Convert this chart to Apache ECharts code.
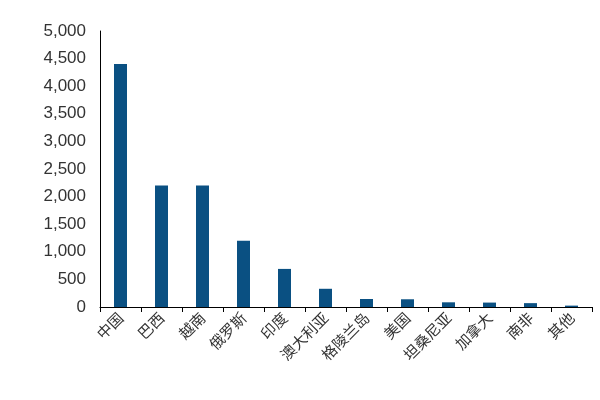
<!DOCTYPE html>
<html>
<head>
<meta charset="UTF-8">
<script src="https://cdn.jsdelivr.net/npm/echarts@6/dist/echarts.min.js"></script>
</head>
<body style="margin:0">
<div id="main" style="width:600px;height:400px;"></div>
<script>
    var categories = ['中国', '巴西', '越南', '俄罗斯', '印度', '澳大利亚', '格陵兰岛', '美国', '坦桑尼亚', '加拿大', '南非', '其他'];
    var values = [4400, 2200, 2200, 1200, 690, 330, 145, 140, 85, 80, 70, 25];

    var myChart = echarts.init(document.getElementById('main'));
    var option = {
        animation: false,
        grid: {left: 100, right: 8, top: 31, bottom: 93},
        xAxis: {
            type: 'category',
            data: categories,
            axisLine: {lineStyle: {color: '#000'}},
            axisTick: {show: true, lineStyle: {color: '#000'}},
            axisLabel: {rotate: 45, color: '#333', fontSize: 15, fontFamily: 'Noto Sans CJK SC', interval: 0, margin: 8}
        },
        yAxis: {
            type: 'value',
            min: 0, max: 5000, interval: 500,
            axisLine: {show: true, lineStyle: {color: '#000'}},
            axisTick: {show: false},
            splitLine: {show: false},
            axisLabel: {color: '#333', fontSize: 17, fontFamily: 'Liberation Sans', margin: 14,
                formatter: function (v) { return v.toLocaleString('en-US'); }}
        },
        series: [{
            type: 'bar',
            data: values,
            barWidth: 13,
            itemStyle: {color: '#0a5082'}
        }]
    };
    myChart.setOption(option);
</script>
</body>
</html>
